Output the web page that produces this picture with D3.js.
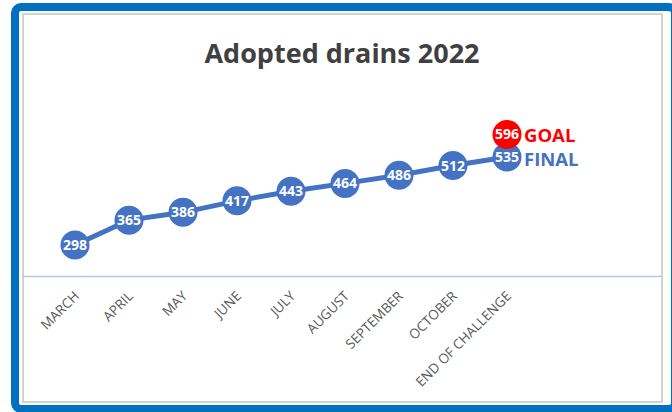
<!DOCTYPE html>
<html>
<head>
<meta charset="utf-8">
<script src="https://cdn.jsdelivr.net/npm/d3@7"></script>
<style>
  body { margin: 0; background: #fff; }
  svg { display: block; font-family: "Open Sans", sans-serif; }
</style>
</head>
<body>
<svg width="672" height="412"></svg>
<script>
var months = ["MARCH", "APRIL", "MAY", "JUNE", "JULY", "AUGUST", "SEPTEMBER", "OCTOBER", "END OF CHALLENGE"];
var drains = [298, 365, 386, 417, 443, 464, 486, 512, 535];
var goal = 596;

var svg = d3.select('svg'),
    width = +svg.attr('width'),
    height = +svg.attr('height');

var blue = '#4472c4';

// frame
svg.append('rect')
    .attr('x', 15).attr('y', 7)
    .attr('width', 660).attr('height', 402)
    .attr('rx', 6)
    .attr('fill', 'none')
    .attr('stroke', '#0070c0')
    .attr('stroke-width', 8);

svg.append('rect')
    .attr('x', 23).attr('y', 14)
    .attr('width', 639).attr('height', 388)
    .attr('fill', '#fff')
    .attr('stroke', '#d2d2d2')
    .attr('stroke-width', 2);

svg.append('text')
    .attr('x', 342).attr('y', 63)
    .attr('text-anchor', 'middle')
    .attr('font-size', 27)
    .attr('font-weight', 'bold')
    .attr('fill', '#404040')
    .text('Adopted drains 2022');

var x = d3.scalePoint()
    .domain(months)
    .range([75, 507]);

var y = d3.scaleLinear()
    .domain([200, 600])
    .range([281.4, 132.9]);

// category axis
svg.append('line')
    .attr('x1', 23).attr('x2', 662)
    .attr('y1', 276.5).attr('y2', 276.5)
    .attr('stroke', '#b4c7e7')
    .attr('stroke-width', 1.5);

svg.append('g').selectAll('text')
    .data(months)
    .enter()
    .append('text')
    .attr('transform', function(d) {
        return 'translate(' + (x(d) + 5) + ',297) rotate(-45)';
    })
    .attr('text-anchor', 'end')
    .attr('font-size', 13.5)
    .attr('fill', '#595959')
    .text(function(d) { return d; });

var line = d3.line()
    .x(function(d, i) { return x(months[i]); })
    .y(function(d) { return y(d); });

svg.append('path')
    .datum(drains)
    .attr('d', line)
    .attr('fill', 'none')
    .attr('stroke', blue)
    .attr('stroke-width', 5);

var pts = svg.append('g').selectAll('g')
    .data(drains)
    .enter()
    .append('g')
    .attr('transform', function(d, i) {
        return 'translate(' + x(months[i]) + ',' + y(d) + ')';
    });

pts.append('circle')
    .attr('r', 14.5)
    .attr('fill', blue);

pts.append('text')
    .attr('text-anchor', 'middle')
    .attr('dy', '0.36em')
    .attr('font-size', 14)
    .attr('font-weight', 'bold')
    .attr('fill', '#fff')
    .text(function(d) { return d; });

// goal marker on the last category
var last = months[months.length - 1];
var gx = x(last);

svg.append('circle')
    .attr('cx', gx).attr('cy', y(goal))
    .attr('r', 14.5)
    .attr('fill', '#ff0000');

svg.append('text')
    .attr('x', gx).attr('y', y(goal))
    .attr('dy', '0.36em')
    .attr('text-anchor', 'middle')
    .attr('font-size', 14)
    .attr('font-weight', 'bold')
    .attr('fill', '#fff')
    .text(goal);

svg.append('text')
    .attr('x', gx + 17).attr('y', y(goal) + 7.5)
    .attr('font-size', 18.5)
    .attr('font-weight', 'bold')
    .attr('fill', '#ff0000')
    .text('GOAL');

svg.append('text')
    .attr('x', gx + 17).attr('y', y(drains[drains.length - 1]) + 9)
    .attr('font-size', 18.5)
    .attr('font-weight', 'bold')
    .attr('fill', blue)
    .text('FINAL');
</script>
</body>
</html>
